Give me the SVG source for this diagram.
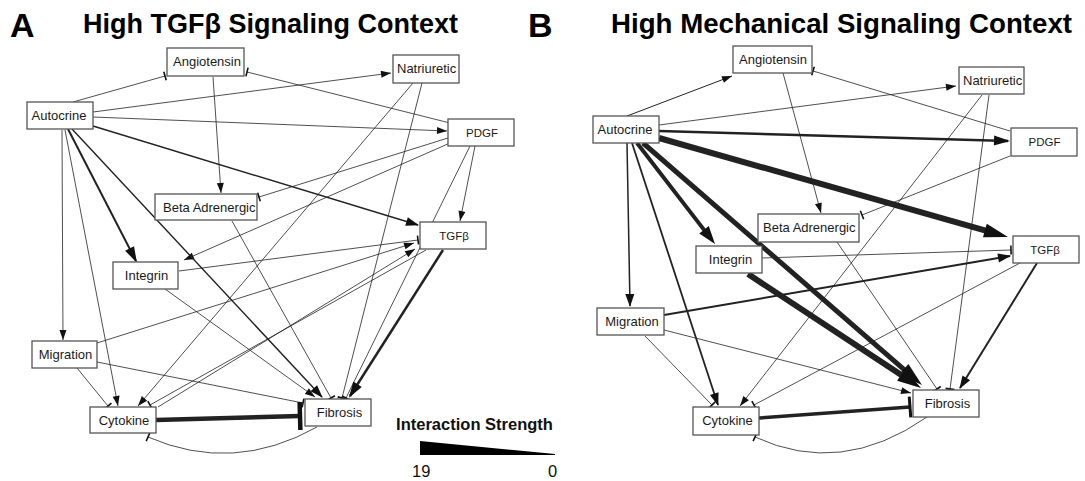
<svg xmlns="http://www.w3.org/2000/svg" width="1085" height="481" viewBox="0 0 1085 481">
<style>
.bg{fill:#fff}
.n rect{fill:#fff;stroke:#555;stroke-width:1.3}
.n text{font-family:"Liberation Sans",Arial,sans-serif;font-size:13px;fill:#1a1a1a;text-anchor:middle}
.n text.s{text-anchor:start}
.n text.k{font-size:11.5px}
.e line,.e path{stroke:#222;stroke-width:0.8;fill:none}
.title{font-family:"Liberation Sans",Arial,sans-serif;font-weight:bold;fill:#000}
.leg{font-family:"Liberation Sans",Arial,sans-serif;fill:#111}
</style>
<defs>
<marker id="aS" markerUnits="userSpaceOnUse" markerWidth="10" markerHeight="7" refX="10" refY="3.5" orient="auto" overflow="visible"><path d="M0,0L10,3.5L0,7z" fill="#111"/></marker>
<marker id="aM" markerUnits="userSpaceOnUse" markerWidth="13" markerHeight="9" refX="12" refY="4.5" orient="auto" overflow="visible"><path d="M0,0L13,4.5L0,9z" fill="#111"/></marker>
<marker id="aML" markerUnits="userSpaceOnUse" markerWidth="16" markerHeight="10" refX="14" refY="5" orient="auto" overflow="visible"><path d="M0,0L16,5L0,10z" fill="#111"/></marker>
<marker id="aL" markerUnits="userSpaceOnUse" markerWidth="18" markerHeight="12" refX="8" refY="6" orient="auto" overflow="visible"><path d="M0,0L18,6L0,12z" fill="#111"/></marker>
<marker id="aXL" markerUnits="userSpaceOnUse" markerWidth="24" markerHeight="14" refX="10" refY="7" orient="auto" overflow="visible"><path d="M0,0L24,7L0,14z" fill="#111"/></marker>
<marker id="bS" markerUnits="userSpaceOnUse" markerWidth="2" markerHeight="9" refX="1" refY="4.5" orient="auto" overflow="visible"><path d="M1,0V9" stroke="#111" stroke-width="1.6"/></marker>
<marker id="bA" markerUnits="userSpaceOnUse" markerWidth="6" markerHeight="28" refX="3" refY="14" orient="auto" overflow="visible"><path d="M3,0V28" stroke="#111" stroke-width="4.5"/></marker>
<marker id="bB" markerUnits="userSpaceOnUse" markerWidth="4" markerHeight="21" refX="2" refY="10.5" orient="auto" overflow="visible"><path d="M2,0V21" stroke="#111" stroke-width="3"/></marker>
</defs>
<rect class="bg" x="0" y="0" width="1085" height="481"/>

<text class="title" x="10" y="36.5" font-size="34">A</text>
<text class="title" x="83" y="33" font-size="27">High TGFβ Signaling Context</text>
<text class="title" x="528" y="36.5" font-size="34">B</text>
<text class="title" x="611" y="33" font-size="27" textLength="461" lengthAdjust="spacingAndGlyphs">High Mechanical Signaling Context</text>

<g id="connectors-A" class="e">
<line x1="73" y1="102" x2="165" y2="76" marker-end="url(#bS)"/>
<line x1="450" y1="123" x2="247" y2="72" marker-end="url(#bS)"/>
<line x1="93" y1="112" x2="391" y2="73" marker-end="url(#aS)"/>
<line x1="93" y1="117" x2="447" y2="131" marker-end="url(#aS)"/>
<line x1="93" y1="126" x2="418" y2="225" style="stroke-width:1.4" marker-end="url(#aM)"/>
<line x1="213" y1="77" x2="221" y2="193" marker-end="url(#aS)"/>
<line x1="448" y1="138" x2="259" y2="197" marker-end="url(#bS)"/>
<line x1="450" y1="143" x2="184" y2="260" marker-end="url(#aS)"/>
<line x1="413" y1="83" x2="138" y2="406" marker-end="url(#aS)"/>
<line x1="422" y1="83" x2="342" y2="398" marker-end="url(#bS)"/>
<line x1="475" y1="146" x2="460" y2="221" marker-end="url(#aS)"/>
<line x1="470" y1="146" x2="346" y2="398" marker-end="url(#bS)"/>
<line x1="68" y1="129" x2="136" y2="261" style="stroke-width:2" marker-end="url(#aML)"/>
<line x1="62" y1="130" x2="63" y2="340" marker-end="url(#aS)"/>
<line x1="65" y1="130" x2="118" y2="406" marker-end="url(#aS)"/>
<line x1="72" y1="129" x2="322" y2="397" style="stroke-width:1.4" marker-end="url(#aM)"/>
<line x1="232" y1="221" x2="331" y2="398" marker-end="url(#bS)"/>
<line x1="165" y1="289" x2="315" y2="397" marker-end="url(#aS)"/>
<line x1="179" y1="271" x2="418" y2="240" marker-end="url(#bS)"/>
<line x1="97" y1="343" x2="414" y2="243" marker-end="url(#aS)"/>
<line x1="158" y1="407" x2="415" y2="249" marker-end="url(#aS)"/>
<line x1="426" y1="250" x2="150" y2="405" marker-end="url(#bS)"/>
<line x1="443" y1="250" x2="350" y2="396" style="stroke-width:2.5" marker-end="url(#aML)"/>
<line x1="77" y1="368" x2="108" y2="406" marker-end="url(#bS)"/>
<line x1="97" y1="362" x2="303" y2="403" marker-end="url(#bS)"/>
<line x1="156" y1="420" x2="300" y2="416" style="stroke-width:4.5" marker-end="url(#bA)"/>
<path d="M317,427 Q233,474 148,437" marker-end="url(#bS)"/>
</g>

<g id="connectors-B" class="e">
<line x1="627" y1="116" x2="732" y2="76" style="stroke-width:1" marker-end="url(#aS)"/>
<line x1="1010" y1="131" x2="813" y2="71" marker-end="url(#bS)"/>
<line x1="659" y1="125" x2="956" y2="86" marker-end="url(#aS)"/>
<line x1="659" y1="131" x2="1008" y2="141" style="stroke-width:2.5" marker-end="url(#aML)"/>
<line x1="659" y1="138" x2="994.5" y2="233.2" style="stroke-width:6" marker-end="url(#aXL)"/>
<line x1="783" y1="73" x2="821" y2="213" marker-end="url(#aS)"/>
<line x1="1010" y1="156" x2="862" y2="215" marker-end="url(#bS)"/>
<line x1="982" y1="95" x2="740" y2="406" marker-end="url(#aS)"/>
<line x1="989" y1="95" x2="950" y2="389" marker-end="url(#bS)"/>
<line x1="637" y1="143" x2="708.9" y2="236.1" style="stroke-width:4" marker-end="url(#aL)"/>
<line x1="643" y1="143" x2="911.4" y2="375.8" style="stroke-width:5" marker-end="url(#aXL)"/>
<line x1="748" y1="274" x2="909.3" y2="380.3" style="stroke-width:6" marker-end="url(#aXL)"/>
<line x1="762" y1="258" x2="1011" y2="250" marker-end="url(#bS)"/>
<line x1="664" y1="315" x2="1010" y2="256" style="stroke-width:2" marker-end="url(#aM)"/>
<line x1="1020" y1="263" x2="754" y2="405" marker-end="url(#bS)"/>
<line x1="1037" y1="263" x2="960" y2="388" style="stroke-width:2" marker-end="url(#aM)"/>
<line x1="837" y1="242" x2="937" y2="389" marker-end="url(#bS)"/>
<line x1="627" y1="143" x2="630" y2="306" style="stroke-width:1.5" marker-end="url(#aM)"/>
<line x1="632" y1="143" x2="718" y2="405" style="stroke-width:1.8" marker-end="url(#aM)"/>
<line x1="645" y1="336" x2="712" y2="405" marker-end="url(#bS)"/>
<line x1="664" y1="330" x2="911" y2="393" marker-end="url(#aS)"/>
<line x1="759" y1="418" x2="910" y2="407" style="stroke-width:3.5" marker-end="url(#bB)"/>
<path d="M927,417 Q841,477 755,437" marker-end="url(#bS)"/>
</g>

<g id="a-angiotensin" class="n"><rect x="167" y="48" width="77" height="28"/><text x="207" y="66">Angiotensin</text></g>
<g id="a-natriuretic" class="n"><rect x="393" y="55" width="66" height="28"/><text class="s" x="397" y="73">Natriuretic</text></g>
<g id="a-autocrine" class="n"><rect x="27" y="102" width="66" height="27"/><text x="59" y="120">Autocrine</text></g>
<g id="a-pdgf" class="n"><rect x="448" y="119" width="66" height="27"/><text class="k" x="482" y="137">PDGF</text></g>
<g id="a-beta" class="n"><rect x="155" y="194" width="102" height="26"/><text class="s" x="163" y="212">Beta Adrenergic</text></g>
<g id="a-tgfb" class="n"><rect x="420" y="222" width="66" height="27"/><text class="k" x="454" y="240">TGFβ</text></g>
<g id="a-integrin" class="n"><rect x="113" y="262" width="65" height="27"/><text x="146.5" y="280">Integrin</text></g>
<g id="a-migration" class="n"><rect x="32" y="341" width="65" height="27"/><text x="65.5" y="359">Migration</text></g>
<g id="a-cytokine" class="n"><rect x="90" y="407" width="66" height="26"/><text x="124" y="425">Cytokine</text></g>
<g id="a-fibrosis" class="n"><rect x="305" y="399" width="66" height="27"/><text x="339.5" y="417">Fibrosis</text></g>

<g id="b-angiotensin" class="n"><rect x="733" y="46" width="79" height="27"/><text x="773" y="63.5">Angiotensin</text></g>
<g id="b-natriuretic" class="n"><rect x="959" y="67" width="65" height="27"/><text class="s" x="963" y="85">Natriuretic</text></g>
<g id="b-autocrine" class="n"><rect x="593" y="116" width="66" height="27"/><text x="625" y="134">Autocrine</text></g>
<g id="b-pdgf" class="n"><rect x="1011" y="128" width="66" height="28"/><text class="k" x="1044.5" y="146">PDGF</text></g>
<g id="b-tgfb" class="n"><rect x="1013" y="236" width="66" height="27"/><text class="k" x="1045" y="254">TGFβ</text></g>
<g id="b-beta" class="n"><rect x="758" y="214" width="101" height="28"/><text class="s" x="763" y="232">Beta Adrenergic</text></g>
<g id="b-integrin" class="n"><rect x="696" y="246" width="66" height="27"/><text x="730.5" y="264">Integrin</text></g>
<g id="b-migration" class="n"><rect x="597" y="308" width="67" height="27"/><text x="632" y="326">Migration</text></g>
<g id="b-cytokine" class="n"><rect x="693" y="407" width="66" height="28"/><text x="727.5" y="425">Cytokine</text></g>
<g id="b-fibrosis" class="n"><rect x="913" y="390" width="66" height="27"/><text x="947.5" y="408">Fibrosis</text></g>

<g id="legend">
<text class="leg" x="474.5" y="430" font-size="16.5" font-weight="bold" text-anchor="middle">Interaction Strength</text>
<polygon points="420,441 555,454 555,455 420,455" fill="#000"/>
<text class="leg" x="412" y="477" font-size="16.5">19</text>
<text class="leg" x="548" y="477" font-size="16.5">0</text>
</g>
</svg>
